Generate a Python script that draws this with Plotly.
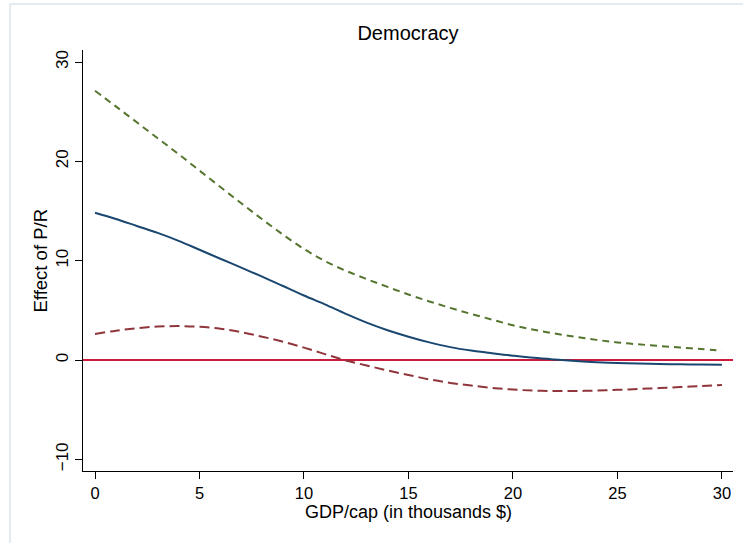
import plotly.graph_objects as go

gdp = list(range(0, 31))
effect = [14.83, 14.2, 13.5, 12.8, 12.0, 11.1, 10.2, 9.3, 8.4, 7.45, 6.5, 5.6, 4.65, 3.76, 3.0, 2.35,
          1.78, 1.3, 0.95, 0.68, 0.44, 0.22, 0.05, -0.1, -0.22, -0.3, -0.36, -0.4, -0.43, -0.45, -0.47]
upper = [27.11, 25.53, 23.93, 22.33, 20.73, 19.07, 17.42, 15.78, 14.17, 12.62, 11.18, 9.97, 8.99, 8.15, 7.36, 6.6,
         5.9, 5.25, 4.64, 4.07, 3.5, 3.05, 2.67, 2.33, 2.03, 1.77, 1.58, 1.42, 1.26, 1.1, 0.94]
lower = [2.62, 2.95, 3.2, 3.37, 3.42, 3.35, 3.15, 2.8, 2.35, 1.85, 1.25, 0.6, -0.05, -0.55, -1.05, -1.5,
         -1.95, -2.3, -2.57, -2.8, -2.97, -3.08, -3.12, -3.12, -3.07, -3.0, -2.92, -2.82, -2.72, -2.62, -2.52]
x_ticks = [0, 5, 10, 15, 20, 25, 30]
y_ticks = [-10, 0, 10, 20, 30]
y_tick_text = ["\u221210", "0", "10", "20", "30"]

FONT = "Liberation Sans, Arial, Helvetica, sans-serif"

fig = go.Figure()
fig.add_trace(go.Scatter(x=gdp, y=effect, mode="lines", line=dict(color="#1a476f", width=2, shape="spline"),
                         showlegend=False))
fig.add_trace(go.Scatter(x=gdp, y=upper, mode="lines",
                         line=dict(color="#55752f", width=2, dash="7px,5px", shape="spline"), showlegend=False))
fig.add_trace(go.Scatter(x=gdp, y=lower, mode="lines",
                         line=dict(color="#90353b", width=2, dash="10px,5px", shape="spline"), showlegend=False))

W, H = 743, 543
ml, mr, mt, mb = 83, 10, 50, 72
pw, ph = W - ml - mr, H - mt - mb


def px_to_paper_x(px):
    return (px - ml) / pw


def px_to_paper_y(py):
    return (H - mb - py) / ph


fig.update_layout(
    width=W, height=H,
    margin=dict(l=ml, r=mr, t=mt, b=mb),
    paper_bgcolor="white", plot_bgcolor="white",
    font=dict(family=FONT, size=17, color="black"),
    title=dict(text="Democracy", x=(ml + pw / 2) / W, xanchor="center", y=1 - 33 / H, yanchor="middle",
               font=dict(size=20, color="black")),
    xaxis=dict(range=[-0.574, 30.53], tickvals=x_ticks, showgrid=False, zeroline=False,
               showline=True, linecolor="black", linewidth=1, ticks="outside", ticklen=7, tickcolor="black",
               tickfont=dict(size=16.5)),
    yaxis=dict(range=[-11.17, 31.21], tickvals=y_ticks, ticktext=y_tick_text,
               showgrid=False, zeroline=True, zerolinecolor="#cc1a3c", zerolinewidth=2,
               showline=True, linecolor="black", linewidth=1, ticks="outside", ticklen=7, tickcolor="black",
               tickangle=-90, tickfont=dict(size=17)),
    annotations=[
        dict(text="GDP/cap (in thousands $)", xref="paper", yref="paper", x=0.5, y=px_to_paper_y(512),
             xanchor="center", yanchor="middle", showarrow=False, font=dict(size=18)),
        dict(text="Effect of P/R", xref="paper", yref="paper", x=px_to_paper_x(40), y=0.5,
             xanchor="center", yanchor="middle", textangle=-90, showarrow=False, font=dict(size=18.5)),
    ],
    shapes=[
        dict(type="line", xref="paper", yref="paper",
             x0=px_to_paper_x(10), x1=px_to_paper_x(10), y0=px_to_paper_y(4), y1=px_to_paper_y(H + 5),
             line=dict(color="#e3ebf0", width=2)),
        dict(type="line", xref="paper", yref="paper",
             x0=px_to_paper_x(10), x1=px_to_paper_x(W + 5), y0=px_to_paper_y(4), y1=px_to_paper_y(4),
             line=dict(color="#e3ebf0", width=2)),
    ],
)

fig.write_html("out.html", config={"displayModeBar": False},
               post_script="document.body.style.margin='0';")
